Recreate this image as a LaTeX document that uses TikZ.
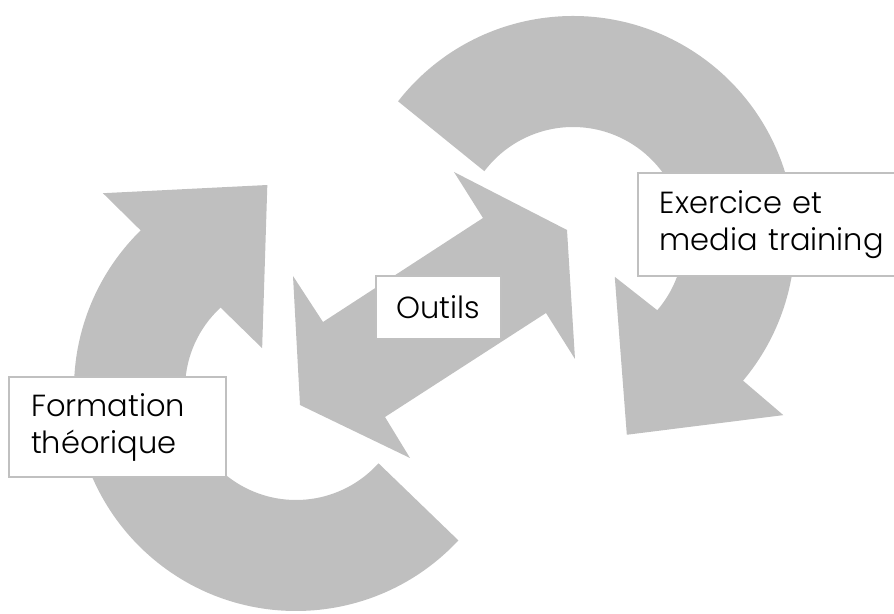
\documentclass[tikz,border=0pt]{standalone}
\usepackage{xcolor}
\usepackage{fontspec}
\setmainfont{Poppins}[UprightFont=* Light]
\definecolor{arrowgray}{RGB}{191,191,191}
\definecolor{boxline}{RGB}{192,192,192}

\begin{document}
\begin{tikzpicture}[x=1pt, y=1pt,
    arrowshape/.style={fill=arrowgray, draw=none},
    labelbox/.style={draw=boxline, line width=1.5pt, fill=white, align=left,
      inner xsep=22pt, inner ysep=0pt, font=\fontsize{30.5}{37}\selectfont}]
    \useasboundingbox (0,0) rectangle (894,613);
    \clip (0,0) rectangle (894,613);
    % left circular arrow
    \begin{scope}[shift={(296,224)}]
      \fill[arrowshape] (-43:222) arc[start angle=-43, end angle=-225.6, radius=222]
        -- (134.6:275) -- (98:206) -- (129.7:53) -- (132.8:111)
        arc[start angle=132.8, end angle=318, radius=111] -- cycle;
    \end{scope}
    % right circular arrow
    \begin{scope}[shift={(573,375)}]
      \fill[arrowshape] (142:222) arc[start angle=142, end angle=-40, radius=222]
        -- (-40.1:275) -- (-74.7:204) -- (-42.9:57) -- (-40.6:111)
        arc[start angle=-40.6, end angle=143, radius=111] -- cycle;
    \end{scope}
    % double arrow in the middle
    \fill[arrowshape] (454,441) -- (567,383) -- (575,254) -- (546,300) -- (385,196)
      -- (410,155) -- (300,208) -- (293,337) -- (323,291) -- (483,395) -- cycle;
    % labels
    \node[labelbox, minimum width=217pt, minimum height=100pt, text width=173pt]
      (formation) at (117.5,186) {Formation\\théorique};
    \node[labelbox, minimum width=125pt, minimum height=63pt, align=center,
      inner xsep=0pt] (outils) at (438.5,305.5) {Outils};
    \node[labelbox, minimum width=280pt, minimum height=103pt, text width=236pt,
      anchor=west] (exercice) at (637,388.5) {Exercice et\\media training};
\end{tikzpicture}
\end{document}
